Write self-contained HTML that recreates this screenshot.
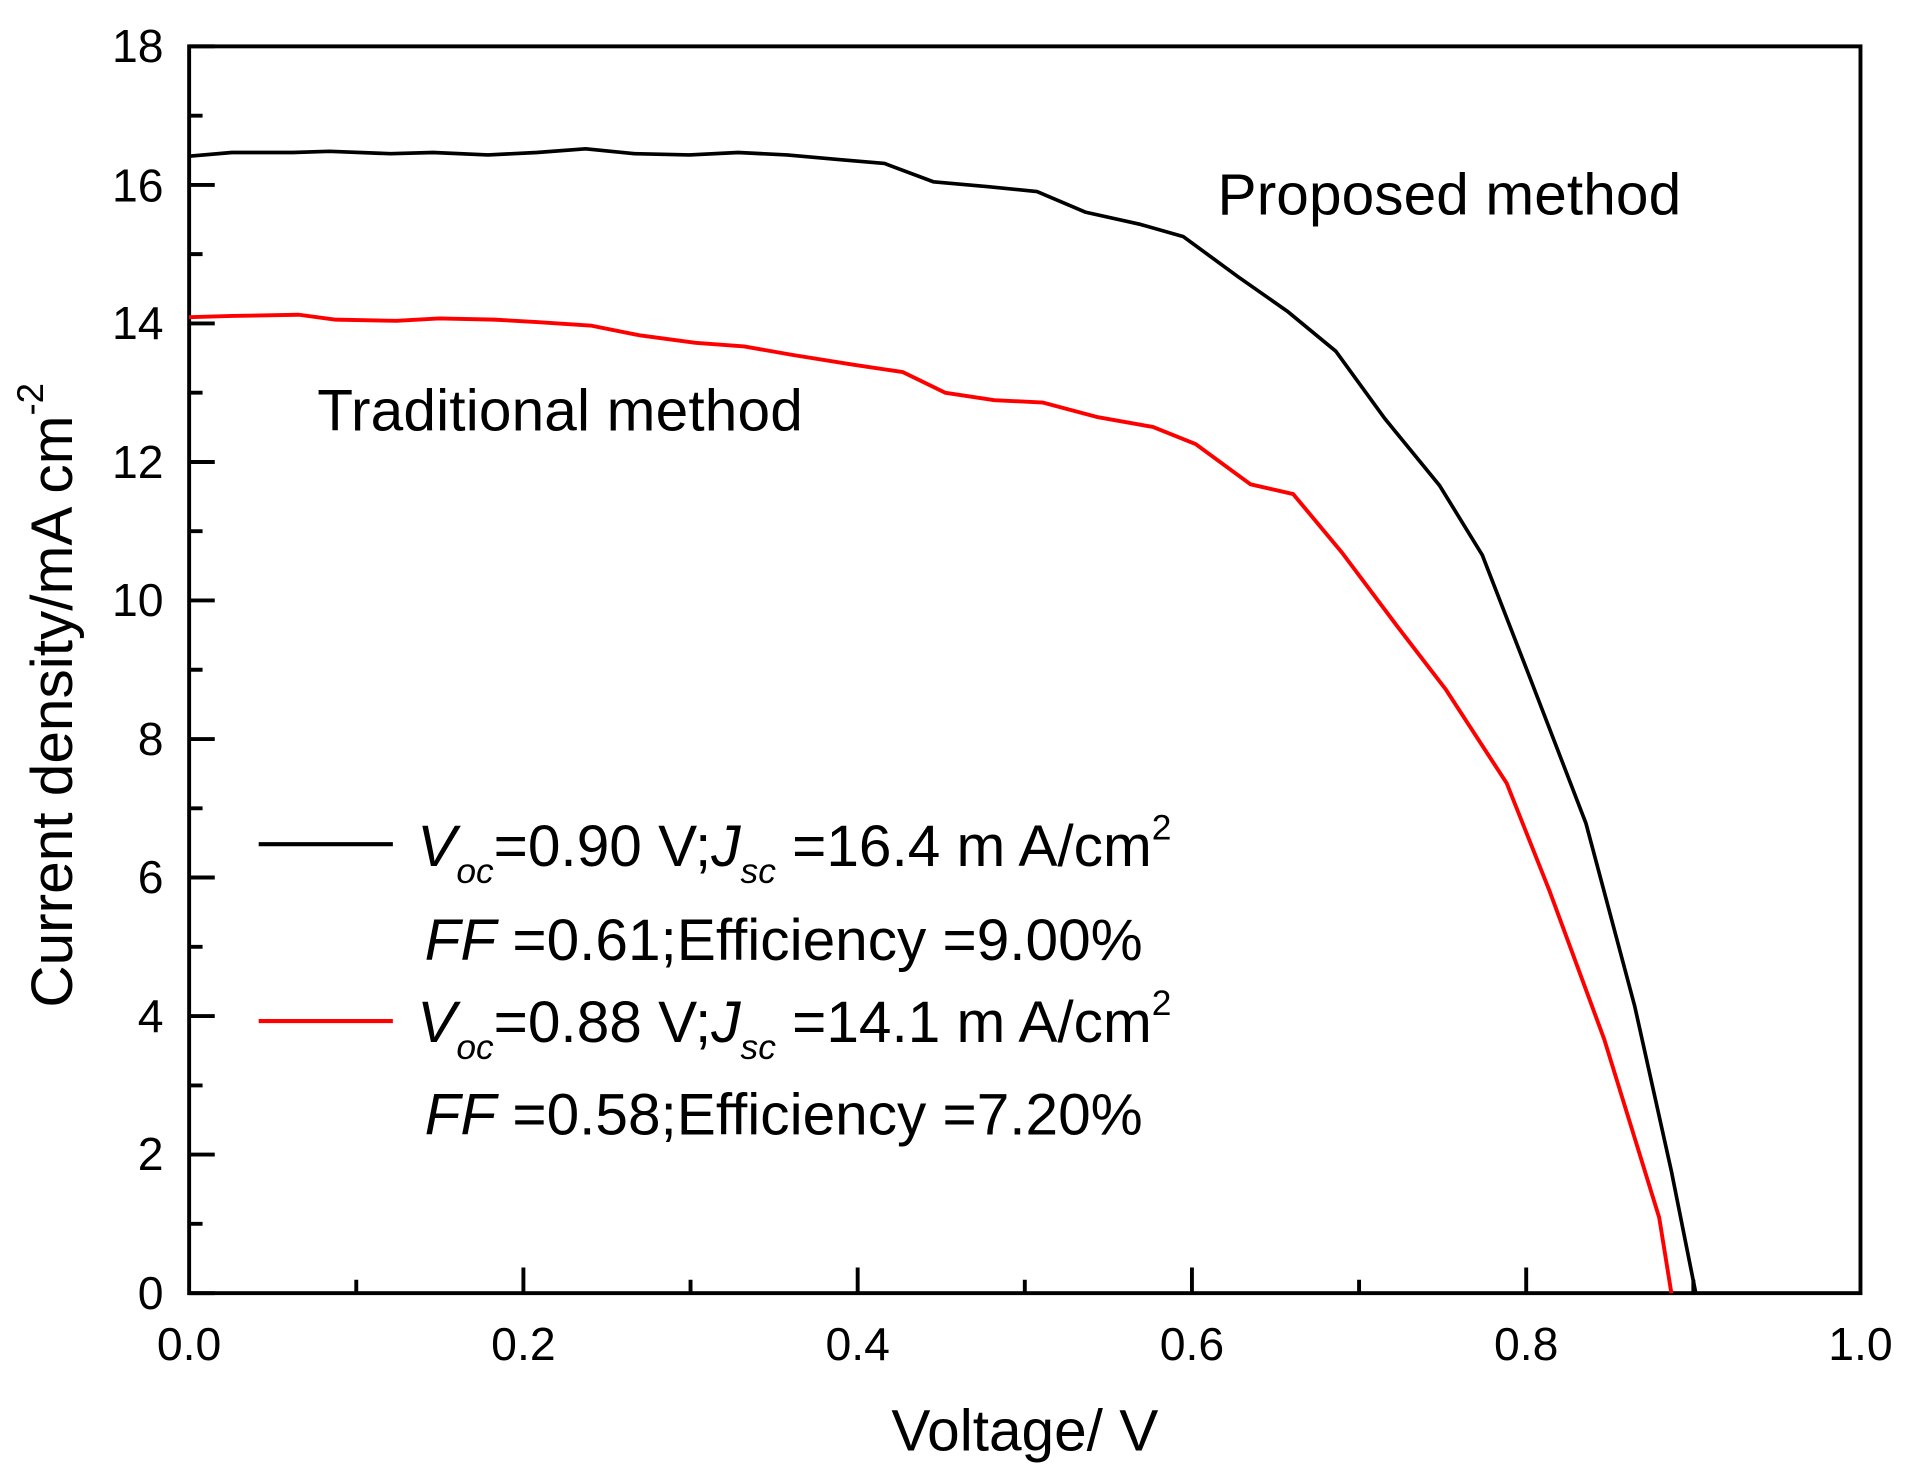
<!DOCTYPE html>
<html><head><meta charset="utf-8"><style>html,body{margin:0;padding:0;background:#fff}svg{display:block}</style></head>
<body>
<svg width="1912" height="1482" viewBox="0 0 1567.2 1214.8" xmlns="http://www.w3.org/2000/svg" font-family="Liberation Sans, Arial, sans-serif">
<rect width="1567.2" height="1214.8" fill="#fff"/>
<g stroke="#000" stroke-width="3.2" fill="none">
<rect x="155" y="38" width="1370" height="1022"/>
<path d="M155 1060h21M155 946.4h21M155 832.9h21M155 719.3h21M155 605.8h21M155 492.2h21M155 378.7h21M155 265.1h21M155 151.6h21M155 38h21
M155 1003.2h11M155 889.7h11M155 776.1h11M155 662.6h11M155 549h11M155 435.4h11M155 321.9h11M155 208.3h11M155 94.8h11"/>
<path d="M429 1060v-21M703 1060v-21M977 1060v-21M1251 1060v-21M292 1060v-11M566 1060v-11M840 1060v-11M1114 1060v-11M1388 1060v-11"/>
</g>
<g font-size="38" fill="#000" text-anchor="end">
<text x="134" y="1073">0</text><text x="134" y="959">2</text><text x="134" y="846">4</text><text x="134" y="732">6</text><text x="134" y="619">8</text><text x="134" y="505">10</text><text x="134" y="392">12</text><text x="134" y="278">14</text><text x="134" y="165">16</text><text x="134" y="51">18</text>
</g>
<g font-size="38" fill="#000" text-anchor="middle">
<text x="155" y="1115">0.0</text><text x="429" y="1115">0.2</text><text x="703" y="1115">0.4</text><text x="977" y="1115">0.6</text><text x="1251" y="1115">0.8</text><text x="1525" y="1115">1.0</text>
</g>
<text x="840" y="1189" font-size="48" text-anchor="middle">Voltage/ V</text>
<text transform="translate(59,826) rotate(-90)" font-size="48">Current density/mA cm<tspan font-size="30" dy="-24">-2</tspan></text>
<polyline fill="none" stroke="#000" stroke-width="3" stroke-linejoin="round" points="155,128 190,125 240,125 270,124 320,126 355,125 400,127 440,125 480,122 520,126 565,127 605,125 645,127 690,131 725,134 765,149 810,153 850,157 890,174 935,184 970,194 1015,227 1055,255 1095,288 1135,343 1180,398 1215,455 1255,558 1300,675 1340,825 1370,960 1390,1060"/>
<polyline fill="none" stroke="#f00" stroke-width="3.2" stroke-linejoin="round" points="155,260 190,259 245,258 275,262 325,263 360,261 405,262 440,264 485,267 525,275 570,281 610,284 650,291 700,299 740,305 775,322 815,328 855,330 900,342 945,350 980,364 1025,397 1060,405 1100,453 1145,513 1185,565 1235,642 1270,730 1315,852 1360,998 1370,1060"/>
<text x="998" y="176" font-size="48" textLength="380">Proposed method</text>
<text x="260" y="353" font-size="48" textLength="398">Traditional method</text>
<line x1="212" y1="692" x2="322" y2="692" stroke="#000" stroke-width="3.4"/>
<line x1="212" y1="837" x2="322" y2="837" stroke="#f00" stroke-width="3.4"/>
<g font-size="48" fill="#000">
<text x="342" y="710"><tspan font-style="italic">V</tspan><tspan font-style="italic" font-size="29" dy="14">oc</tspan><tspan dy="-14">=0.90 V;</tspan><tspan font-style="italic">J</tspan><tspan font-style="italic" font-size="29" dy="14">sc</tspan><tspan dy="-14"> =16.4 m A/cm</tspan><tspan font-size="29" dy="-22">2</tspan></text>
<text x="348" y="787"><tspan font-style="italic">FF</tspan> =0.61;Efficiency =9.00%</text>
<text x="342" y="854"><tspan font-style="italic">V</tspan><tspan font-style="italic" font-size="29" dy="14">oc</tspan><tspan dy="-14">=0.88 V;</tspan><tspan font-style="italic">J</tspan><tspan font-style="italic" font-size="29" dy="14">sc</tspan><tspan dy="-14"> =14.1 m A/cm</tspan><tspan font-size="29" dy="-22">2</tspan></text>
<text x="348" y="930"><tspan font-style="italic">FF</tspan> =0.58;Efficiency =7.20%</text>
</g>
</svg>
</body></html>
